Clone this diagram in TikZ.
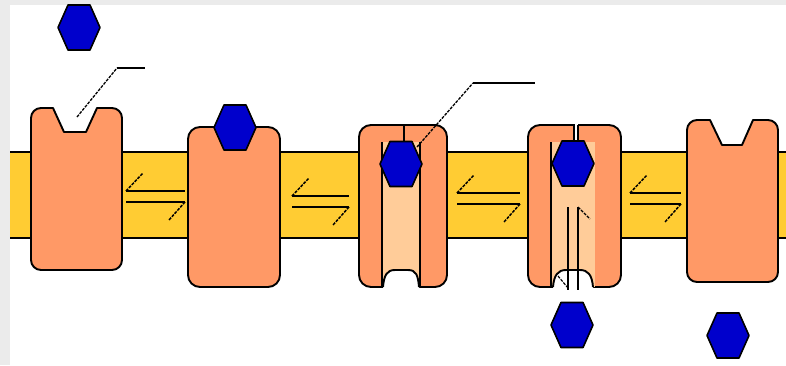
\documentclass[tikz,border=0pt]{standalone}
\definecolor{protorange}{RGB}{255,153,102}
\definecolor{membrane}{RGB}{255,204,51}
\definecolor{channelpeach}{RGB}{255,204,153}
\definecolor{ligandblue}{RGB}{0,0,204}
\definecolor{marginshade}{RGB}{235,235,235}
\begin{document}
\begin{tikzpicture}[x=1pt,y=-1pt,
  outline/.style={draw=black, line width=1.9pt, line join=round},
  protein/.style={outline, fill=protorange},
  eqline/.style={draw=black, line width=1.8pt},
  barb/.style={draw=black, line width=1.5pt, dash pattern=on 3pt off 1.2pt},
  leader/.style={draw=black, line width=1.3pt, dash pattern=on 3pt off 1.2pt},
  tagline/.style={draw=black, line width=1.5pt},
  ligand/.pic={\draw[draw=black, line width=1.6pt, fill=ligandblue, line join=round]
      (-21,0) -- (-11,-22.5) -- (11,-22.5) -- (21,0) -- (11,22.5) -- (-11,22.5) -- cycle;}]
\useasboundingbox (0,0) rectangle (786,365);
\fill[white] (0,0) rectangle (786,365);
\fill[marginshade] (0,0) rectangle (10,365);
\fill[marginshade] (0,0) rectangle (786,5);

% membrane band
\fill[membrane] (10,152) rectangle (786,238);
\draw[eqline] (10,152) -- (786,152);
\draw[eqline] (10,238) -- (786,238);

% equilibrium half-arrows
\newcommand\eqmark[3]{%
  \draw[eqline] (#1,#3) -- (#2,#3);
  \draw[eqline] (#1,#3+11) -- (#2,#3+11);
  \draw[barb] (#1,#3) -- ++(17,-18);
  \draw[barb] (#2,#3+11) -- ++(-16,18);}
\eqmark{126}{185}{191}
\eqmark{292}{349}{196}
\eqmark{457}{520}{193}
\eqmark{630}{681}{193}

% receptor 1: empty binding site
\draw[protein] (31,190) [rounded corners=10] -- (31,108) [sharp corners] -- (53,108)
  -- (64,132) -- (86,132) -- (97,108) [rounded corners=10] -- (122,108)
  -- (122,270) -- (31,270) [sharp corners] -- cycle;

% receptor 2: ligand bound
\draw[protein, rounded corners=12] (188,127) rectangle (280,287);

% receptor 3: channel opening
\draw[protein, rounded corners=12] (359,125) rectangle (447,287);
\fill[channelpeach] (382,142) rectangle (420,287);
\fill[white] (383,290) -- (383,287) .. controls (384,275) and (387,270) .. (395,270)
  -- (408,270) .. controls (416,270) and (418,275) .. (419,287) -- (419,290) -- cycle;
\draw[outline] (383,287) .. controls (384,275) and (387,270) .. (395,270)
  -- (408,270) .. controls (416,270) and (418,275) .. (419,287);
\draw[outline] (382,142) -- (382,287);
\draw[outline] (420,142) -- (420,287);
\draw[outline] (404,125) -- (404,142);

% receptor 4: open channel
\draw[protein, rounded corners=12] (528,125) rectangle (621,287);
\fill[channelpeach] (551,142) rectangle (595,287);
\fill[white] (553,290) -- (553,287) .. controls (554,275) and (558,270) .. (566,270)
  -- (580,270) .. controls (588,270) and (592,275) .. (593,287) -- (593,290) -- cycle;
\draw[outline] (553,287) .. controls (554,275) and (558,270) .. (566,270)
  -- (580,270) .. controls (588,270) and (592,275) .. (593,287);
\draw[outline] (551,142) -- (551,287);
\fill[white] (574.5,124) rectangle (577.5,142);
\draw[draw=black, line width=1.2pt] (574,124.5) -- (574,142);
\draw[draw=black, line width=1.2pt] (578,124.5) -- (578,142);
\draw[eqline, line width=1.4pt] (568,207) -- (568,290);
\draw[eqline, line width=1.4pt] (578,207) -- (578,290);
\draw[barb, line width=1.2pt] (578,207) -- (590,219);
\draw[barb, line width=1.2pt] (568,288) -- (558,276);

% receptor 5: empty binding site
\draw[protein] (687,200) [rounded corners=10] -- (687,120) [sharp corners] -- (710,120)
  -- (722,145) -- (742,145) -- (753,120) [rounded corners=10] -- (778,120)
  -- (778,282) -- (687,282) [sharp corners] -- cycle;

% ligands
\coordinate (L1) at (79,27.5);
\coordinate (L2) at (235,127.5);
\coordinate (L3) at (401,164);
\coordinate (L4) at (573,163.5);
\coordinate (L5) at (572,325);
\coordinate (L6) at (728,335.5);
\foreach \c in {L1,L2,L3,L4,L5,L6} \pic at (\c) {ligand};

% leader lines
\coordinate (site1) at (77,117);
\coordinate (bend1) at (117,68);
\coordinate (tag1) at (145,68);
\draw[leader] (site1) -- (bend1);
\draw[tagline] (bend1) -- (tag1);
\coordinate (site3) at (417,147);
\coordinate (bend3) at (473,83);
\coordinate (tag3) at (535,83);
\draw[leader] (site3) -- (bend3);
\draw[tagline] (bend3) -- (tag3);
\end{tikzpicture}
\end{document}
